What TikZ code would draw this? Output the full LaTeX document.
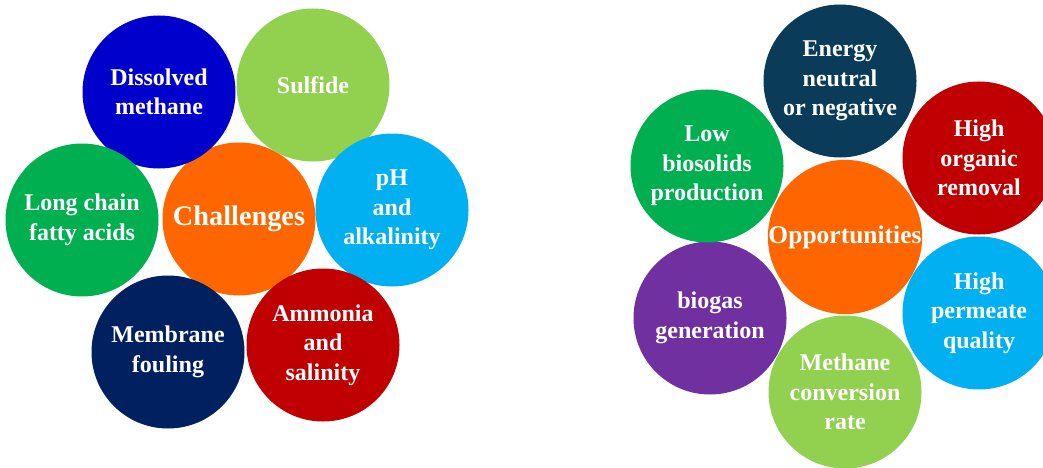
\documentclass[tikz,border=0pt]{standalone}
\usepackage{fontspec}
\setmainfont{Liberation Serif}
\definecolor{deepblue}{RGB}{0,0,204}
\definecolor{limegreen}{RGB}{146,208,80}
\definecolor{grassgreen}{RGB}{0,176,80}
\definecolor{hotorange}{RGB}{255,102,0}
\definecolor{skyblue}{RGB}{0,176,240}
\definecolor{navyblue}{RGB}{0,32,96}
\definecolor{darkred}{RGB}{192,0,0}
\definecolor{petrol}{RGB}{10,60,90}
\definecolor{violet}{RGB}{112,48,160}
\begin{document}
\begin{tikzpicture}[x=1pt,y=-1pt,
    bubble/.style={circle,minimum size=153pt,inner sep=0pt,text=white,align=center,
        font=\fontsize{24}{29.5}\selectfont\bfseries},
    hub/.style={bubble,fill=hotorange,font=\fontsize{28.3}{32}\selectfont\bfseries}]
    \useasboundingbox (0,0) rectangle (1043,468);
    % challenges
    \node[hub] (challenges) at (239,219) {Challenges};
    \node[bubble,fill=deepblue] (methane) at (159,92) {Dissolved\\methane};
    \node[bubble,fill=limegreen] (sulfide) at (313,85) {Sulfide};
    \node[bubble,fill=grassgreen] (fattyacids) at (82,220) {Long chain\\fatty acids};
    \node[bubble,fill=skyblue] (ph) at (392,210) {pH\\and\\alkalinity};
    \node[bubble,fill=navyblue] (fouling) at (168,352) {Membrane\\fouling};
    \node[bubble,fill=darkred] (ammonia) at (323,345) {Ammonia\\and\\salinity};
    % opportunities
    \node[hub,font=\fontsize{25.5}{30}\selectfont\bfseries] (opportunities) at (845,237) {Opportunities};
    \node[bubble,fill=petrol] (energy) at (840,81) {Energy\\neutral\\or negative};
    \node[bubble,fill=darkred] (organic) at (979,158) {High\\organic\\removal};
    \node[bubble,fill=skyblue] (permeate) at (979,313) {High\\permeate\\quality};
    \node[bubble,fill=limegreen] (conversion) at (845,392) {Methane\\conversion\\rate};
    \node[bubble,fill=violet] (biogas) at (710,318) {biogas\\generation};
    \node[bubble,fill=grassgreen] (biosolids) at (707,166) {Low\\biosolids\\production};
\end{tikzpicture}
\end{document}
